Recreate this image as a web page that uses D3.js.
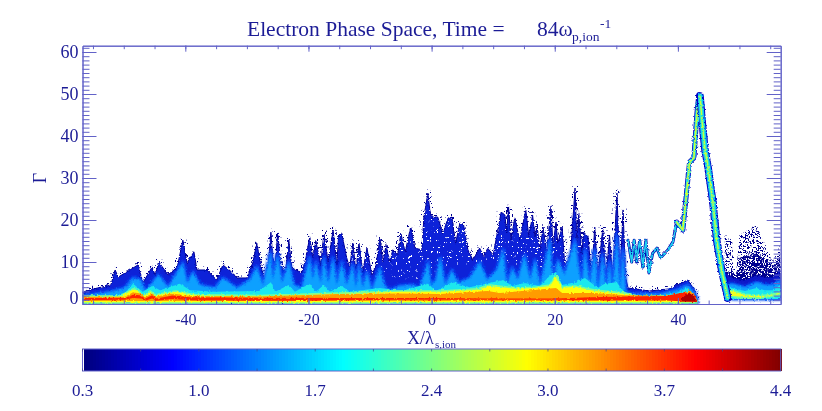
<!DOCTYPE html>
<html>
<head>
<meta charset="utf-8">
<script src="https://cdn.jsdelivr.net/npm/d3@7"></script>
<style>
  html, body { margin: 0; padding: 0; background: #fff; }
  svg { display: block; }
  text { font-family: "Liberation Serif", serif; fill: #1c1c96; }
</style>
</head>
<body>
<svg id="chart" width="822" height="411"></svg>
<script>
// ---- values: X in lambda_s,ion, G is gamma ----
const envX = [-56.6,-54.3,-52.1,-51.4,-50.9,-49,-47.7,-46.9,-45.4,-44.9,-44.3,-42.8,-41.3,-40.4,-39.7,-38.6,-38.1,-36.5,-34.9,-33.9,-32.7,-31.6,-30,-29,-28.4,-27.4,-26.7,-26.1,-25.8,-25.4,-25,-24.5,-23.7,-23.2,-22.7,-21.1,-20.4,-19.8,-19.3,-18.8,-18,-17.5,-16.8,-16,-15.4,-15.1,-14.6,-13.8,-13.3,-12.8,-12.3,-11.8,-11.2,-10.5,-9.7,-9,-8.4,-7.9,-7.4,-6.8,-6.3,-5.5,-5,-4.3,-3.4,-2.7,-1.6,-1.25,-0.6,-0.3,0,1,1.8,2.7,3.3,3.9,4.6,5.2,5.9,6.7,7.8,8.5,9.1,10,10.6,11.3,11.9,12.2,12.5,12.9,13.5,14.3,15.3,15.8,16.4,16.8,17.1,17.6,18.1,18.7,19.4,19.7,20.2,20.5,21.2,21.6,22.5,23.3,23.6,23.9,24.4,24.7,25.4,26,26.5,27,27.8,28.3,28.9,29.4,30.1,30.6,31.1,31.5,31.9,35.4,38.7,39.8,41.6,42.7,43.1];
const envG = [2.9,3.8,4.5,8.1,6.4,8.1,9.3,5,8.8,6.9,10,6.9,8.8,15.2,9.8,12.4,8.1,8.1,5.7,9.3,7.9,6.2,6.2,10,14.5,6.9,6.2,17.1,11,9.5,16.9,9.3,7.6,15.2,8.6,7.4,11,16,11,15,9.3,16.9,10,17.6,9.3,16.4,16.9,11,8.6,14.5,8.1,14.5,7.6,13.3,6.9,9.3,15.7,10,14,10,12.9,11.7,16.9,12.4,18.3,13.3,12.9,20.7,26.4,22.4,20.7,20.7,16.9,20.5,20.7,14.5,19.3,18.8,12.9,10.5,13.3,11.2,13.3,11.7,16.4,21.9,21.2,16.9,23.1,15.2,20.5,15.2,22.4,16,21.2,16,18.8,12.9,18.3,12.4,23.3,13.6,19.5,14.5,18.3,9.8,10.5,27.6,14.5,21.7,12.1,17.1,16,6.4,18.3,6.4,18.1,5.7,16.4,5.7,26.4,6.4,22.4,6.4,3.8,3.1,3.6,4.5,5.7,3.3,1];

const azureX = [-56.6,-52.2,-49.8,-48.5,-47.3,-46.5,-45.4,-44.4,-42.8,-40.4,-39.7,-38.8,-37.6,-35.2,-33.9,-31.6,-29.5,-28.4,-27.4,-26.1,-25.8,-25,-24.3,-23.2,-22.4,-21.1,-19.8,-19.3,-18.8,-18,-17.5,-16.8,-16,-15.4,-14.6,-13.8,-12.8,-12.3,-11.8,-11.2,-10.5,-9.7,-8.4,-7.7,-6.8,-5.1,-3.2,-1.9,-0.6,-0.1,0.7,1.4,2.2,3.3,4.3,6.2,7.8,9,10.6,11.6,12.2,13.1,14,15.1,16,16.8,17.6,18.4,19.2,19.7,20.5,21.6,23.3,23.8,24.4,24.9,25.7,26.5,27,27.8,28.3,28.9,29.4,30.1,30.6,31.1,31.5,32.5,37.1,39.8,41.6,42.7,43.1];
const azureG = [1.9,2.9,3.8,6.2,5.7,3.1,5,6.9,4,9.8,5,7.6,4.5,3.8,6.2,3.8,5.7,8.8,4.5,12.4,5.7,11.7,5,10,4.5,3.8,11,5.7,10,5,11,5,11,4.5,10,4.5,9.3,3.8,9.3,3.8,7.6,3.3,8.6,4.5,3.3,4.3,4.5,3.8,10,4.5,5.7,11,4.5,8.1,5,6.2,10,5.7,8.1,12.9,4.5,8.6,5.7,11.7,5.7,10.5,4.5,9.3,15.2,4.5,10.5,6.9,15.2,9.3,4.5,12.9,4.5,12.9,3.3,11.7,2.9,10,3.3,16.4,3.3,12.9,2.9,2.4,2.4,3.3,4.5,2.6,1];

const cyanX = [-56.6,-52.2,-49.8,-48.5,-46.9,-45.4,-44.1,-40.9,-39.2,-35.2,-28,-26.1,-25.4,-23.2,-22.2,-19.8,-18.8,-17.5,-16.5,-14.6,-13.3,-8.4,-5.1,-0.6,0.7,3.3,6.2,11.6,13.1,15.1,17.6,19.2,20.2,21.2,23.3,24.9,27,28.1,30.1,30.9,32.5,37.1,39.8,41.6,42.7,43.1];
const cyanG = [1.4,1.9,2.6,4.8,2.9,4.3,3.3,4.8,3.3,2.9,3.1,5.2,2.9,4.5,2.9,4.8,2.9,4.5,2.9,4.3,2.9,3.8,3.1,4.8,3.1,5.2,4,5.7,4.3,5,4.3,6.7,7.6,4.5,5.2,6.2,3.8,4.8,5.2,3.3,1.9,1.9,2.6,3.8,2.1,0.7];

const yellowX = [-56.6,-50.6,-48.5,-47.7,-46.9,-45.7,-44.9,-41.6,-38.4,-28,-21.4,-14.9,-8.4,-5.1,1.4,7.5,9.5,13.5,16.8,19.2,20.2,21.2,23.3,26.5,31.4,33.8,40.3,42.7,43.1];
const yellowG = [1.9,1.9,3.6,3.4,1.8,3.1,2.2,3.1,2.2,2,2.3,2.6,2.9,3.1,3.1,3.6,4.5,3.8,4,4.5,6.9,4,4.3,3.3,2.6,1.8,2,1.7,0.7];

const orangeX = [-56.6,-49.8,-48.5,-47.3,-46.5,-45.4,-44.7,-42.1,-39.2,-28,-21.4,-14.9,-5.1,1.4,9.1,11.1,20.2,21.2,26.5,31.4,40.3,41.9,42.7,43.1];
const orangeG = [1.7,1.7,2.8,2.5,1.6,2.5,1.8,2.5,1.9,1.8,2.1,2.4,2.5,2.4,3.1,2.6,3.8,2.6,2.6,2.1,1.9,3.3,2.1,0.7];

const redX = [-56.6,-49.8,-48.5,-47.3,-46.5,-45.4,-44.7,-42.1,-39.2,-28,-21.4,-14.9,-5.1,1.4,9.1,20,26,31.4,38,41,42.7,43.1];
const redTop = [1.4,1.4,2.2,2.1,1.3,2.1,1.3,2,1.6,1.5,1.5,1.4,1.4,1.4,1.3,1.3,1.6,1.8,1.9,2.8,2.2,0.9];
const redBot = [0.9,1,1.4,1.3,0.8,1.3,0.8,1.2,0.9,0.8,0.8,0.9,1,1,1,1,0.9,0.9,0.9,0.6,0.5,0.4];

const darkX = [40.5,41.7,42.6,43];
const darkTop = [1.2,2.6,2,0.9];
const darkBot = [0.6,0.6,0.6,0.6];

// ribbon above the bulk, running up to the peak and back down
const zigX = [31.9,32.5,32.9,33.3,33.8,34.3,34.8,35.3,35.9,36.6,37.2,38.4,39.2,39.8];
const zigG = [15.2,10,15.2,10,15.2,8.8,15.2,7.4,12.1,13.3,11,12.9,14.8,19.5];
const upX = [39.8,40.8,41.4,41.9,42.6,43.1,43.4];
const upG = [19.5,17.6,26.4,33.8,34.8,45.5,49.8];
const downX = [43.6,44,44.4,44.9,45.7,46.3,47.1,48.1];
const downG = [49.5,42.6,36.7,32.6,24,15.2,8.1,1.4];

// tail on the right of the peak
const tailX = [47.6,48.8,50.9,52.8,54.1,55.4,56.6];
const tailNavy = [7.6,6.4,5.7,6.9,6.4,6.4,8.1];
const tailAzure = [4.5,4.8,4,5.2,4.5,4.5,5.7];
const tailCyan = [3.8,3.8,3.1,3.8,3.3,3.3,4.5];
const tailYellow = [3.1,3.3,2.3,2.1,2.1,2.4,2.9];
const tailBot = [5,1.2,1.2,1.2,1.2,1.2,1.2];
const tailYellowBot = [2.5,1.8,1.4,1.4,1.5,1.9,2.2];

// sparse dots over the tail
const specX = [47.6,48.8,49.3,49.8,50,52.8,54.1,55.4,56.6];
const specTop = [16.4,15.2,4.5,12.9,16.4,18.8,14,10,14];
const denseTop = [7,8,7,8,11,12,11,9,11];

// white holes in the dark part of the spikes
const holeX = [-13,-6,-1,2,8,12,17,22,27];
const holeTop = [12,15,22,22,14,18,17,16,14];
const holeBot = [7,6,6,9,10,10,9,8,8];

const xTicks = [-40,-20,0,20,40];
const yTicks = [0,10,20,30,40,50,60];
const cbarLabels = ["0.3","1.0","1.7","2.4","3.0","3.7","4.4"];
const cbarStops = [0,0.125,0.37,0.635,0.875,1];
const cbarColors = ["#00007f","#0000ff","#00ffff","#ffff00","#ff0000","#7f0000"];

// ---- layout ----
const plot = { left: 82.5, right: 780.7, top: 45.7, bottom: 304 };
const axisColor = "#6262c8";

const svg = d3.select("#chart");
const x = d3.scaleLinear().domain([-56.7, 56.7]).range([plot.left, plot.right]);
const y = d3.scaleLinear().domain([0, 61.5]).range([plot.bottom, plot.top]);

// ---- filters ----
const defs = svg.append("defs");
defs.append("clipPath").attr("id", "plotClip").append("rect")
  .attr("x", plot.left).attr("y", plot.top)
  .attr("width", plot.right - plot.left).attr("height", plot.bottom - plot.top);

function blurFilter(id, sd) {
  defs.append("filter").attr("id", id)
    .attr("x", "-5%").attr("y", "-20%").attr("width", "110%").attr("height", "140%")
    .append("feGaussianBlur").attr("stdDeviation", sd);
}
blurFilter("blurS", 0.5);
blurFilter("blurM", 0.8);
blurFilter("blurL", 1.3);

// stipple texture: noise thresholded to a mask
function speckFilter(id, cut, seed) {
  const f = defs.append("filter").attr("id", id)
    .attr("filterUnits", "userSpaceOnUse")
    .attr("x", 0).attr("y", 0).attr("width", 822).attr("height", 411)
    .attr("color-interpolation-filters", "sRGB");
  f.append("feTurbulence").attr("type", "fractalNoise")
    .attr("baseFrequency", 0.8).attr("numOctaves", 1).attr("seed", seed).attr("result", "n");
  f.append("feColorMatrix").attr("in", "n").attr("type", "matrix")
    .attr("values", "0 0 0 0 0  0 0 0 0 0  0 0 0 0 0  1 0 0 0 0").attr("result", "a");
  f.append("feComponentTransfer").attr("in", "a").attr("result", "m")
    .append("feFuncA").attr("type", "linear").attr("slope", 25).attr("intercept", -25 * cut);
  f.append("feComposite").attr("in", "SourceGraphic").attr("in2", "m").attr("operator", "in");
}
speckFilter("speckEdge", 0.62, 4);
speckFilter("speckSparse", 0.53, 6);
speckFilter("speckMid", 0.46, 9);
speckFilter("speckHole", 0.66, 17);

// jagged edges for the whole map, the data is particles not contours
const rough = defs.append("filter").attr("id", "rough")
  .attr("filterUnits", "userSpaceOnUse")
  .attr("x", 0).attr("y", 0).attr("width", 822).attr("height", 411);
rough.append("feTurbulence").attr("type", "fractalNoise")
  .attr("baseFrequency", 0.45).attr("numOctaves", 2).attr("seed", 11).attr("result", "n");
rough.append("feDisplacementMap").attr("in", "SourceGraphic").attr("in2", "n")
  .attr("scale", 3).attr("xChannelSelector", "R").attr("yChannelSelector", "G");

// ---- density layers ----
const clipped = svg.append("g").attr("clip-path", "url(#plotClip)");
const map = clipped.append("g").attr("filter", "url(#rough)");

function band(xs, tops, bots, fill, opts = {}) {
  const idx = d3.range(xs.length);
  const area = d3.area()
    .x(i => x(xs[i]))
    .y1(i => y(tops[i]))
    .y0(i => y(Array.isArray(bots) ? bots[i] : bots));
  return map.append("path")
    .attr("d", area(idx))
    .attr("fill", fill)
    .attr("stroke", opts.stroke || "none")
    .attr("stroke-width", opts.width || 0)
    .attr("stroke-linejoin", "round")
    .attr("filter", opts.filter || null);
}

function ribbon(xs, gs, color, width, filter) {
  const idx = d3.range(xs.length);
  const line = d3.line().x(i => x(xs[i])).y(i => y(gs[i]));
  map.append("path")
    .attr("d", line(idx))
    .attr("fill", "none")
    .attr("stroke", color)
    .attr("stroke-width", width)
    .attr("stroke-linejoin", "round")
    .attr("stroke-linecap", "round")
    .attr("filter", filter || null);
}

// loose dots round the edge, then the body
band(envX, envG, 0.3, "none", { stroke: "#00008f", width: 7, filter: "url(#speckEdge)" });
band(envX, envG, 0.3, "#0a22d8", { stroke: "#00009a", width: 1 });
band(holeX, holeTop, holeBot, "#ffffff", { filter: "url(#speckHole)" });

band(specX, specTop, 3, "#00008f", { filter: "url(#speckSparse)" });
band(specX, denseTop, 3, "#00008f", { filter: "url(#speckMid)" });
band(tailX, tailNavy, tailBot, "#0a18c8", { stroke: "#00009a", width: 1 });

// the wide blurred stroke gives the blue to azure ramp
band(azureX, azureG, 0.3, "#0a48f4", { stroke: "#0a48f4", width: 4, filter: "url(#blurL)" });
band(tailX, tailAzure, tailBot, "#0a48f4", { stroke: "#0a48f4", width: 3, filter: "url(#blurL)" });
band(azureX, azureG, 0.3, "#0aa0ff", { filter: "url(#blurM)" });
band(tailX, tailAzure, tailBot, "#0aa0ff", { filter: "url(#blurM)" });
band(cyanX, cyanG, 0.3, "#1ce8ee", { filter: "url(#blurS)" });
band(tailX, tailCyan, tailBot, "#1ce8ee", { filter: "url(#blurS)" });
band(yellowX, yellowG, 0.25, "#ffff10", { stroke: "#80ff90", width: 1.6, filter: "url(#blurS)" });
band(tailX, tailYellow, tailYellowBot, "#f0ff20", { stroke: "#70ffa0", width: 1.6, filter: "url(#blurS)" });
band(orangeX, orangeG, 0.7, "#ff9c00", { filter: "url(#blurS)" });
band(redX, redTop, redBot, "#ff2400", { filter: "url(#blurS)" });
band(darkX, darkTop, darkBot, "#b00000", { filter: "url(#blurS)" });

ribbon(zigX, zigG, "#0000b0", 3);
ribbon(zigX, zigG, "#20d0f0", 1.6);
ribbon(upX, upG, "#0000c0", 5);
ribbon(upX, upG, "#20e0e8", 3.4, "url(#blurS)");
ribbon(upX, upG, "#d0ff30", 1.5, "url(#blurS)");
ribbon(downX, downG, "#0000c0", 7.5);
ribbon(downX, downG, "#10b0ff", 5.5, "url(#blurS)");
ribbon(downX, downG, "#30f0c0", 3.4, "url(#blurS)");
ribbon(downX, downG, "#c8ff40", 1.3, "url(#blurS)");

// ---- axes ----
function styleAxis(g) {
  g.selectAll(".domain").attr("stroke", axisColor).attr("stroke-width", 1);
  g.selectAll(".tick line").attr("stroke", axisColor).attr("stroke-width", 1);
  g.selectAll("text").attr("font-family", null).attr("font-size", 16);
}
const noLabel = () => "";
const xMinor = d3.range(-55, 56, 5);
const yMinor = d3.range(0, 62, 1);

svg.append("g").attr("transform", `translate(0,${plot.bottom})`)
  .call(d3.axisBottom(x).tickValues(xMinor).tickSize(-3.5).tickSizeOuter(0).tickFormat(noLabel)).call(styleAxis);
svg.append("g").attr("transform", `translate(0,${plot.bottom})`)
  .call(d3.axisBottom(x).tickValues(xTicks).tickSize(-6).tickSizeOuter(0).tickPadding(10).tickFormat(String)).call(styleAxis);
svg.append("g").attr("transform", `translate(0,${plot.top})`)
  .call(d3.axisTop(x).tickValues(xMinor).tickSize(-3.5).tickSizeOuter(0).tickFormat(noLabel)).call(styleAxis);
svg.append("g").attr("transform", `translate(0,${plot.top})`)
  .call(d3.axisTop(x).tickValues(xTicks).tickSize(-6).tickSizeOuter(0).tickFormat(noLabel)).call(styleAxis);

svg.append("g").attr("transform", `translate(${plot.left},0)`)
  .call(d3.axisLeft(y).tickValues(yMinor).tickSize(-7).tickSizeOuter(0).tickFormat(noLabel)).call(styleAxis);
const yAxisMajor = svg.append("g").attr("transform", `translate(${plot.left},0)`)
  .call(d3.axisLeft(y).tickValues(yTicks).tickSize(-14).tickSizeOuter(0).tickPadding(4).tickFormat(String)).call(styleAxis);
// the 0 label sits above its tick in the original
yAxisMajor.selectAll(".tick text").filter(d => d === 0).attr("dy", "-0.05em");
yAxisMajor.selectAll(".tick text").attr("font-size", 18);

svg.append("g").attr("transform", `translate(${plot.right},0)`)
  .call(d3.axisRight(y).tickValues(yMinor).tickSize(-7).tickSizeOuter(0).tickFormat(noLabel)).call(styleAxis);
svg.append("g").attr("transform", `translate(${plot.right},0)`)
  .call(d3.axisRight(y).tickValues(yTicks).tickSize(-14).tickSizeOuter(0).tickFormat(noLabel)).call(styleAxis);

// ---- titles ----
function label(px, py, txt, size, anchor) {
  return svg.append("text").attr("x", px).attr("y", py)
    .attr("font-size", size).attr("text-anchor", anchor || "start").text(txt);
}
label(247, 36, "Electron Phase Space, Time =", 21.5);
label(537, 36, "84\u03c9", 21.5);
label(572, 41, "p,ion", 13.5);
label(600, 28, "-1", 13.5);

label(407, 344, "X/\u03bb", 18);
label(435, 348, "s,ion", 11);

svg.append("text").attr("transform", "translate(46,178) rotate(-90)")
  .attr("font-size", 18).attr("text-anchor", "middle").text("\u0393");

// ---- colour bar ----
const bar = { left: 84, right: 780.7, top: 349, bottom: 371, frameLeft: 82.5 };
const cbarT = d3.scaleLinear().domain([0, 1]).range([bar.left, bar.right]);
const jet = d3.scaleLinear().domain(cbarStops).range(cbarColors);
const cells = d3.range(0, 1, 1 / 232);

svg.append("g").attr("shape-rendering", "crispEdges").selectAll("rect").data(cells).join("rect")
  .attr("x", d => cbarT(d))
  .attr("y", bar.top)
  .attr("width", (bar.right - bar.left) / 232 + 1)
  .attr("height", bar.bottom - bar.top)
  .attr("fill", d => jet(d));

svg.append("rect")
  .attr("x", bar.frameLeft).attr("y", bar.top)
  .attr("width", bar.right - bar.frameLeft).attr("height", bar.bottom - bar.top)
  .attr("fill", "none").attr("stroke", axisColor).attr("stroke-width", 1);

const cbarPos = d3.scaleLinear().domain([0, cbarLabels.length - 1]).range([bar.frameLeft, bar.right]);
svg.append("g").selectAll("text").data(cbarLabels).join("text")
  .attr("x", (d, i) => cbarPos(i))
  .attr("y", 396)
  .attr("font-size", 17)
  .attr("text-anchor", "middle")
  .text(d => d);

const cbarMinor = d3.range(0, cbarLabels.length - 0.5, 0.5);
svg.append("g").selectAll("line").data(cbarMinor).join("line")
  .attr("x1", d => cbarPos(d)).attr("x2", d => cbarPos(d))
  .attr("y1", bar.bottom - 2.5).attr("y2", bar.bottom)
  .attr("stroke", "#44448c").attr("stroke-width", 0.7);
svg.append("g").selectAll("line").data(cbarMinor).join("line")
  .attr("x1", d => cbarPos(d)).attr("x2", d => cbarPos(d))
  .attr("y1", bar.top).attr("y2", bar.top + 2.5)
  .attr("stroke", "#44448c").attr("stroke-width", 0.7);
</script>
</body>
</html>
